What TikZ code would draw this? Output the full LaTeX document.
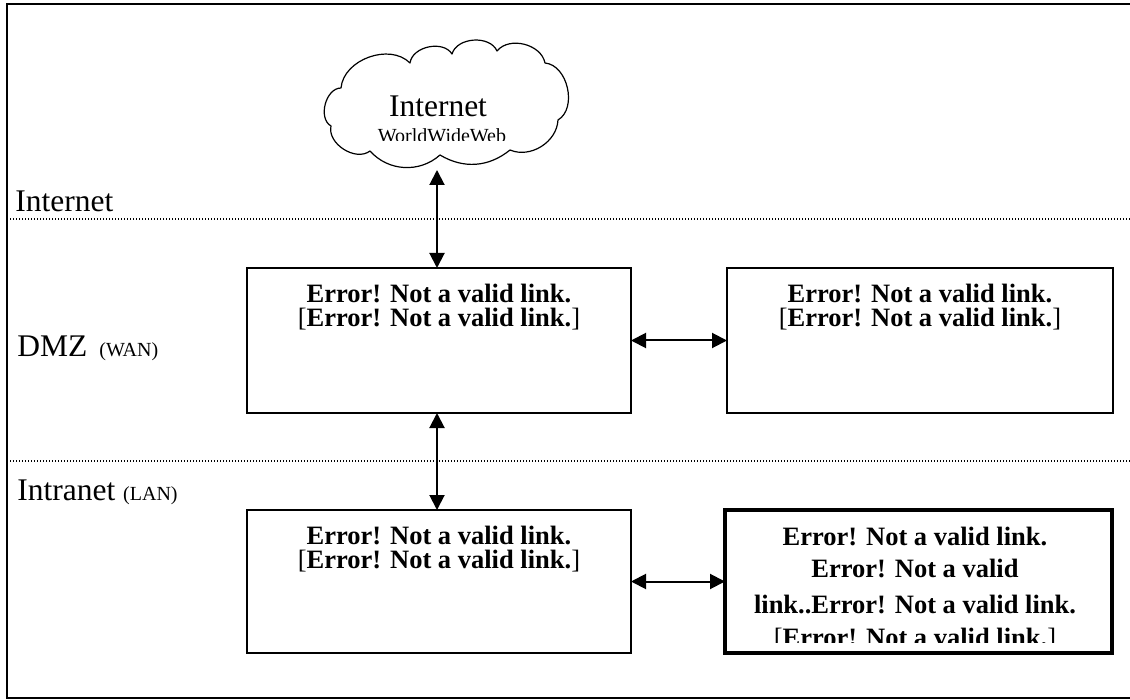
\documentclass[tikz,border=0pt]{standalone}
\usepackage{fontspec}
\setmainfont{Liberation Serif}
\usetikzlibrary{arrows.meta}
\begin{document}
\begin{tikzpicture}[x=0.5pt,y=-0.5pt,
  box/.style={draw, line width=1.3pt, inner sep=0pt, outer sep=0pt},
  thickbox/.style={draw, line width=2.2pt, inner sep=0pt, outer sep=0pt},
  boxtext/.style={inner sep=0pt, align=center, font=\fontsize{13.25}{12}\selectfont\bfseries, anchor=north},
  lbl/.style={inner sep=0pt, anchor=base west, font=\fontsize{15.75}{18}\selectfont},
  conn/.style={{Triangle[length=7.5pt,width=7.5pt]}-{Triangle[length=7.5pt,width=7.5pt]}, line width=1pt},
  zone/.style={line width=0.6pt, dash pattern=on 0.5pt off 1pt},
  frame/.style={line width=1pt},
  cloudline/.style={line width=0.6pt, line join=round}]
\useasboundingbox (0,0) rectangle (1130,700);
% frame
\draw[frame] (1130,4) -- (7,4) -- (7,698) -- (1130,698);
% zone separators
\draw[zone] (7,219) -- (1130,219);
\draw[zone] (7,461) -- (1130,461);
% zone labels
\node[lbl] (linet) at (15,211.5) {Internet};
\node[lbl] (ldmz) at (17,357) {DMZ\hspace{6pt}{\fontsize{10}{12}\selectfont(WAN)}};
\node[lbl] (llan) at (17,500) {Intranet {\fontsize{10}{12}\selectfont(LAN)}};
% cloud
\draw[cloudline] (331,126) to[bend left=75] (341,88)
  to[bend left=65] (410,63)
  to[bend left=70] (452,54)
  to[bend left=70] (497,51)
  to[bend left=65] (545,63)
  to[bend left=72] (558,120)
  to[bend left=55] (510,150)
  to[bend left=35] (440,155)
  to[bend left=45] (370,151)
  to[bend left=70] cycle;
\node[inner sep=0pt, anchor=base, font=\fontsize{15.75}{18}\selectfont] (inet) at (438,117) {Internet};
\begin{scope}
\clip (300,120) rectangle (600,141);
\node[inner sep=0pt, anchor=base, font=\fontsize{10}{12}\selectfont] (www) at (442,143) {WorldWideWeb};
\end{scope}
% boxes
\node[box, minimum width=192pt, minimum height=72.5pt] (dmzl) at (439,340.5) {};
\node[box, minimum width=193pt, minimum height=72.5pt] (dmzr) at (920,340.5) {};
\node[box, minimum width=192pt, minimum height=71.5pt] (lanl) at (439,581.5) {};
\node[boxtext] (t1) at ([yshift=-8pt]dmzl.north) {Error! Not a valid link.\\{\mdseries[}Error! Not a valid link.{\mdseries]}};
\node[boxtext] (t2) at ([yshift=-8pt]dmzr.north) {Error! Not a valid link.\\{\mdseries[}Error! Not a valid link.{\mdseries]}};
\node[boxtext] (t3) at ([yshift=-8pt]lanl.north) {Error! Not a valid link.\\{\mdseries[}Error! Not a valid link.{\mdseries]}};
\begin{scope}
\clip (725,510) rectangle (1112,642);
\node[boxtext, font=\fontsize{13.25}{16}\selectfont\bfseries] (t4) at (915,527) {Error! Not a valid link.\\Error! Not a valid\\[2pt]link..Error! Not a valid link.\\[0.5pt]{\mdseries[}Error! Not a valid link.{\mdseries]}};
\end{scope}
\node[thickbox, minimum width=193.5pt, minimum height=71.5pt] (lanr) at (918.5,581.5) {};
% connectors
\coordinate (ctop) at (437,170);
\draw[conn] (ctop) -- (ctop |- dmzl.north);
\draw[conn] (dmzl.south -| ctop) -- (lanl.north -| ctop);
\draw[conn] (dmzl.east) -- (dmzr.west);
\draw[conn] (lanl.east) -- (lanr.west);
\end{tikzpicture}
\end{document}
